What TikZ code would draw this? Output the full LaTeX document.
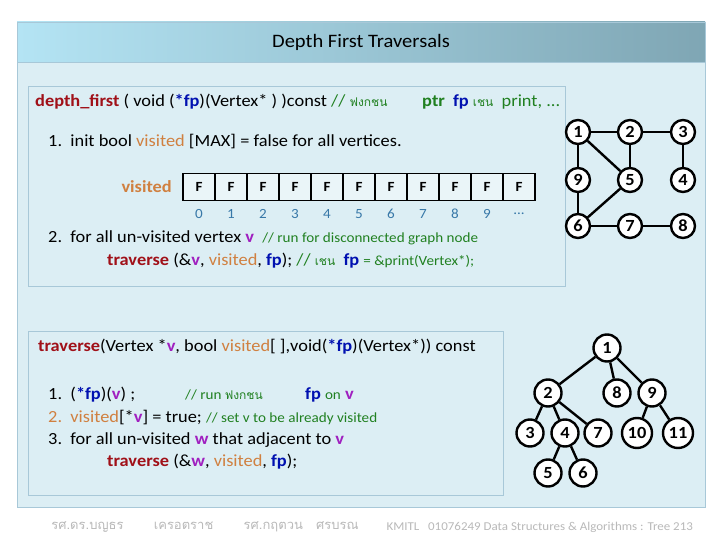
\documentclass[tikz,border=0pt]{standalone}
\usepackage{fontspec}
\setmainfont[FakeStretch=1.08]{Carlito}
\newfontfamily\thaifont[Script=Thai]{Loma}
\usetikzlibrary{positioning}
\definecolor{fnred}{HTML}{A01018}
\definecolor{fpblue}{HTML}{0010B0}
\definecolor{visorange}{HTML}{D08040}
\definecolor{vpurple}{HTML}{A020C0}
\definecolor{cmtgreen}{HTML}{208020}
\definecolor{idxblue}{HTML}{3878A8}
\definecolor{panel}{HTML}{DCEEF4}
\definecolor{boxline}{HTML}{A8C8D8}
\definecolor{barleft}{HTML}{B4E4F4}
\definecolor{barright}{HTML}{7FA6B4}
\newcommand{\fnname}[1]{\textcolor{fnred}{\textbf{#1}}}
\newcommand{\fpname}[1]{\textcolor{fpblue}{\textbf{#1}}}
\newcommand{\visname}[1]{\textcolor{visorange}{#1}}
\newcommand{\vname}[1]{\textcolor{vpurple}{\textbf{#1}}}
\newcommand{\cmt}[1]{\textcolor{cmtgreen}{#1}}
\newcommand{\thsmall}[1]{{\thaifont\fontsize{12}{14}\selectfont #1}}
\tikzset{
  code/.style={anchor=west,inner sep=0pt,font=\fontsize{17}{18}\selectfont},
  vtx/.style={circle,draw,line width=2.4pt,fill=white,minimum size=24pt,inner sep=0pt,font=\fontsize{17}{18}\selectfont\bfseries},
  cell/.style={draw,line width=1.2pt,fill=panel!60!white,minimum width=32pt,minimum height=27pt,inner sep=0pt,font=\fontsize{14}{15}\selectfont\bfseries},
  edge/.style={line width=2.4pt}
}
\begin{document}
\begin{tikzpicture}[x=1pt,y=-1pt]
  \useasboundingbox (0,0) rectangle (720,540);
  \fill[white] (0,0) rectangle (720,540);

% panel and title bar
  \fill[panel,draw=boxline] (17,22) rectangle (705,507);
  \shade[left color=barleft,right color=barright,draw=boxline] (17,22) rectangle (705,62);
  \node[font=\fontsize{19}{21}\selectfont] (title) at (361,42) {Depth First Traversals};

% first box
  \draw[boxline] (28,86) rectangle (565,286);
  \node[code] (hdr) at (35,102) {\fnname{depth\_first} ( void (\fpname{*fp})(Vertex* ) )const \cmt{// \thsmall{ฟงกชน}}};
  \node[code] (ptr) at (422,102) {\cmt{\textbf{ptr}} \ \fpname{fp} \cmt{\thsmall{เชน}} \ \cmt{print, ...}};
  \node[code] (stepA) at (48,142) {1.\ \ init bool \visname{visited} [MAX] = false for all vertices.};
  \node[code,anchor=east] (vislbl) at (172,187) {\visname{\textbf{visited}}};
  \foreach \i in {0,...,10}{
    \node[cell] (c\i) at (199+32*\i,187) {F};
  }
  \foreach \i in {0,...,9}{
    \node[font=\fontsize{14}{15}\selectfont,text=idxblue] (n\i) at (199+32*\i,214) {\i};
  }
  \node[font=\fontsize{14}{15}\selectfont,text=idxblue] (ndots) at (519,214) {...};
  \node[code] (stepB) at (48,238) {2.\ \ for all un-visited vertex \vname{v} \ \cmt{\fontsize{14}{15}\selectfont// run for disconnected graph node}};
  \node[code] (stepB2) at (107,261) {\fnname{traverse} (\&\vname{v}, \visname{visited}, \fpname{fp}); \cmt{// \thsmall{เชน}} \ \fpname{fp} \cmt{\fontsize{14}{15}\selectfont= \&print(Vertex*);}};

% graph
  \node[vtx] (g1) at (578,132) {1};
  \node[vtx] (g2) at (630,132) {2};
  \node[vtx] (g3) at (683,132) {3};
  \node[vtx] (g9) at (578,180) {9};
  \node[vtx] (g5) at (630,180) {5};
  \node[vtx] (g4) at (683,180) {4};
  \node[vtx] (g6) at (578,226) {6};
  \node[vtx] (g7) at (630,226) {7};
  \node[vtx] (g8) at (683,226) {8};
  \foreach \a/\b in {g1/g2,g2/g3,g1/g9,g1/g5,g2/g5,g3/g4,g9/g6,g5/g6,g6/g7,g7/g8}
    \draw[edge] (\a) -- (\b);

% second box
  \draw[boxline] (28,331) rectangle (503,495);
  \node[code] (trv) at (38,347) {\fnname{traverse}(Vertex *\vname{v}, bool \visname{visited}[ ],void(\fpname{*fp})(Vertex*)) const};
  \node[code] (s1) at (48,395) {1.\ \ (\fpname{*fp})(\vname{v}) ;};
  \node[code] (s1c) at (185,395) {\cmt{\fontsize{14}{15}\selectfont// run \thsmall{ฟงกชน}}};
  \node[code] (s1d) at (305,395) {\fpname{fp} \cmt{\fontsize{14}{15}\selectfont on} \vname{v}};
  \node[code] (s2) at (48,418) {\visname{2.\ \ visited}[*\vname{v}] = true; \cmt{\fontsize{14}{15}\selectfont// set v to be already visited}};
  \node[code] (s3) at (48,440) {3.\ \ for all un-visited \vname{w} that adjacent to \vname{v}};
  \node[code] (s3b) at (107,462) {\fnname{traverse} (\&\vname{w}, \visname{visited}, \fpname{fp});};

% DFS tree
  \node[vtx,minimum size=27pt] (t1) at (607,348) {1};
  \node[vtx,minimum size=27pt] (t2) at (548,393) {2};
  \node[vtx,minimum size=27pt] (t8) at (617,393) {8};
  \node[vtx,minimum size=27pt] (t9) at (652,393) {9};
  \node[vtx,minimum size=27pt] (t3) at (530,433) {3};
  \node[vtx,minimum size=27pt] (t4) at (565,433) {4};
  \node[vtx,minimum size=27pt] (t7) at (598,433) {7};
  \node[vtx,minimum size=30pt] (t10) at (637,433) {10};
  \node[vtx,minimum size=30pt] (t11) at (678,433) {11};
  \node[vtx,minimum size=27pt] (t5) at (548,473) {5};
  \node[vtx,minimum size=27pt] (t6) at (583,473) {6};
  \foreach \a/\b in {t1/t2,t1/t8,t1/t9,t2/t3,t2/t4,t2/t7,t9/t10,t9/t11,t4/t5,t4/t6}
    \draw[edge] (\a) -- (\b);

% footer
  \node[font=\fontsize{13}{14}\selectfont\thaifont,text=gray!55] (auth) at (205,527) {รศ.ดร.บญธร \qquad เครอตราช \qquad รศ.กฤตวน \ \ ศรบรณ};
  \node[font=\fontsize{12}{13}\selectfont,text=gray!55,anchor=west] (course) at (383,527) {KMITL \ \ 01076249 Data Structures \& Algorithms : Tree 213};
\end{tikzpicture}
\end{document}
